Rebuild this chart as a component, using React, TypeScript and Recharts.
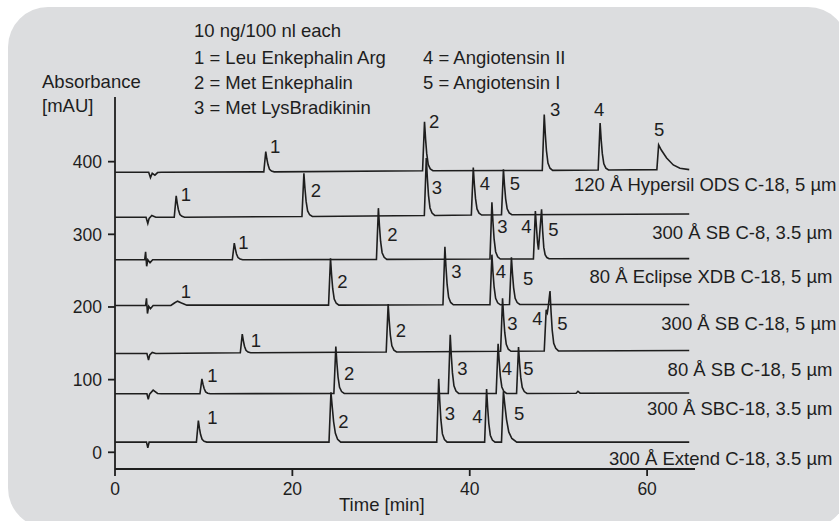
import { ComposedChart, Line, Scatter, XAxis, YAxis } from "recharts";

// chromatogram traces, [time min, absorbance mAU]
const hypersilOds = [
  [0, 385.5], [3.8, 385.5], [4.0, 378], [4.2, 384], [4.5, 381.5], [4.8, 385], [5.2, 385.5],
  [16.78, 386], [17.0, 414], [17.12, 404], [17.25, 396], [17.42, 389.5], [17.65, 387], [17.95, 386],
  [34.68, 387.5], [34.9, 455], [35.02, 431], [35.15, 411], [35.32, 396], [35.55, 390], [35.85, 387.5],
  [48.18, 388], [48.4, 465], [48.52, 438], [48.65, 415], [48.82, 398], [49.05, 391], [49.35, 388],
  [54.48, 388.5], [54.7, 453], [54.82, 430], [54.95, 411], [55.12, 397], [55.35, 391], [55.65, 388.5],
  [61.1, 389], [61.3, 423], [61.6, 416], [62.2, 405], [62.95, 395.5], [63.7, 391], [64.75, 389],
];

const sbC8 = [
  [0, 323.5], [3.5, 323.5], [3.7, 315], [3.85, 322], [4.15, 326], [4.6, 323.5],
  [6.68, 323.5], [6.9, 353], [7.02, 342.7], [7.15, 333.8], [7.32, 327.3], [7.55, 324.7], [7.85, 323.5],
  [21.08, 324.5], [21.3, 384], [21.42, 363], [21.55, 345.3], [21.72, 332.2], [21.95, 326.9], [22.25, 324.5],
  [34.88, 326], [35.1, 405], [35.22, 377.4], [35.35, 353.7], [35.52, 336.3], [35.75, 329.2], [36.05, 326],
  [40.18, 326.5], [40.4, 392], [40.52, 369], [40.65, 349.4], [40.82, 335], [41.05, 329.1], [41.35, 326.5],
  [43.58, 327], [43.8, 389.5], [43.92, 367.6], [44.05, 348.9], [44.22, 335.1], [44.45, 329.5], [44.75, 327],
  [64.75, 328],
];

const eclipseXdb = [
  [0, 265], [3.35, 265], [3.45, 276], [3.57, 256], [3.7, 265], [3.95, 261], [4.25, 265],
  [13.23, 265], [13.45, 288], [13.57, 280], [13.7, 273], [13.87, 268], [14.1, 266], [14.4, 265],
  [29.48, 265.5], [29.7, 336], [29.82, 311.3], [29.95, 290.2], [30.12, 274.7], [30.35, 268.3], [30.65, 265.5],
  [42.28, 266], [42.5, 344], [42.62, 316.7], [42.75, 293.3], [42.92, 276.1], [43.15, 269.1], [43.45, 266],
  [47.18, 266], [47.4, 332], [47.52, 310], [47.65, 288], [47.75, 279], [47.88, 300], [48.1, 334.5],
  [48.22, 305], [48.35, 282], [48.5, 272], [48.7, 268], [48.95, 266.3],
  [64.75, 266.5],
];

const sbC18wide = [
  [0, 202], [3.45, 202], [3.55, 212], [3.66, 191], [3.8, 201], [4.0, 197.5], [4.3, 202],
  [6.3, 202], [6.7, 205.5], [7.05, 208], [7.5, 205.5], [8.1, 202.5],
  [24.08, 202.5], [24.3, 267], [24.42, 244.4], [24.55, 225.1], [24.72, 210.9], [24.95, 205.1], [25.25, 202.5],
  [36.98, 203], [37.2, 283], [37.32, 255], [37.45, 231], [37.62, 213.4], [37.85, 206.2], [38.15, 203],
  [42.28, 203], [42.5, 272], [42.62, 247.9], [42.75, 227.2], [42.92, 212], [43.15, 205.8], [43.45, 203],
  [44.48, 203.5], [44.7, 268.5], [44.82, 245.8], [44.95, 226.3], [45.12, 212], [45.35, 206.1], [45.65, 203.5],
  [64.75, 203.5],
];

const sbC18narrow = [
  [0, 136], [3.6, 136], [3.78, 127], [3.92, 134], [4.2, 137.5], [4.6, 136],
  [14.13, 137], [14.35, 162.7], [14.47, 153.7], [14.6, 146], [14.77, 140.3], [15.0, 138], [15.3, 137],
  [30.58, 138], [30.8, 204], [30.92, 180.9], [31.05, 161.1], [31.22, 146.6], [31.45, 140.6], [31.75, 138],
  [43.48, 139], [43.7, 212], [43.82, 186.5], [43.95, 164.6], [44.12, 148.5], [44.35, 141.9], [44.65, 139],
  [48.4, 139.5], [48.62, 196], [48.75, 192], [48.85, 200], [49.05, 222], [49.17, 193], [49.3, 168],
  [49.47, 150], [49.7, 143], [50.0, 139.5],
  [64.75, 140],
];

const sbc18 = [
  [0, 80.5], [3.6, 80.5], [3.75, 73], [3.9, 80], [4.3, 85.5], [4.8, 81], [5.2, 80.5],
  [9.58, 80.5], [9.8, 101], [9.92, 93.8], [10.05, 87.7], [10.22, 83.2], [10.45, 81.3], [10.75, 80.5],
  [24.68, 81], [24.9, 145.7], [25.02, 123.1], [25.15, 103.6], [25.32, 89.4], [25.55, 83.6], [25.85, 81],
  [37.58, 81], [37.8, 161.8], [37.92, 133.5], [38.05, 109.3], [38.22, 91.5], [38.45, 84.2], [38.75, 81],
  [42.98, 81], [43.2, 149.4], [43.32, 125.5], [43.45, 104.9], [43.62, 89.9], [43.85, 83.7], [44.15, 81],
  [45.28, 81], [45.5, 145], [45.62, 122.6], [45.75, 103.4], [45.92, 89.3], [46.15, 83.6], [46.45, 81],
  [52.0, 81.3], [52.2, 84], [52.45, 81.3],
  [64.75, 81.5],
];

const extendC18 = [
  [0, 14], [3.55, 14], [3.7, 6], [3.85, 14],
  [9.18, 14], [9.4, 43.6], [9.52, 33.2], [9.65, 24.4], [9.82, 17.8], [10.05, 15.2], [10.35, 14],
  [24.13, 14], [24.35, 82.5], [24.5, 62], [24.65, 42], [24.85, 26], [25.1, 18], [25.45, 14],
  [36.28, 14], [36.5, 101], [36.62, 70.6], [36.75, 44.5], [36.92, 25.3], [37.15, 17.5], [37.45, 14],
  [41.68, 14], [41.9, 87], [42.02, 61.5], [42.15, 39.6], [42.32, 23.5], [42.55, 16.9], [42.85, 14],
  [43.58, 14], [43.8, 84], [43.95, 66], [44.15, 45], [44.4, 28], [44.75, 19], [45.3, 14],
  [64.75, 14],
];

const traces = [hypersilOds, sbC8, eclipseXdb, sbC18wide, sbC18narrow, sbc18, extendC18];

// peak numbers: [label, time, absorbance] where the digit sits
const peakLabels = [
  ["1", 17.59, 411.9], ["2", 35.52, 446.3], ["3", 49.16, 462.9], ["4", 54.12, 462.9], ["5", 60.89, 435.3],
  ["1", 7.52, 345.9], ["2", 22.18, 351.8], ["3", 35.82, 355.5], ["4", 41.23, 361], ["5", 44.62, 361],
  ["1", 14.02, 279.8], ["2", 30.82, 291.2], ["3", 43.22, 301.4], ["4", 45.92, 301.4], ["5", 48.97, 298.1],
  ["1", 7.52, 212.8], ["2", 25.18, 225.7], ["3", 38.03, 240.3], ["4", 43.04, 240.3], ["5", 46.12, 230.3],
  ["1", 15.41, 145.3], ["2", 31.76, 159.1], ["3", 44.35, 168.3], ["4", 47.16, 175.2], ["5", 49.98, 168.3],
  ["1", 10.52, 96.4], ["2", 25.93, 99.5], ["3", 38.71, 106.4], ["4", 43.71, 106.4], ["5", 46.15, 106.4],
  ["1", 10.52, 39], ["2", 25.29, 33], ["3", 37.29, 44.5], ["4", 40.4, 39.9], ["5", 45.1, 44.5],
];

const columnNames = [
  "120 Å Hypersil ODS C-18, 5 µm",
  "300 Å SB C-8, 3.5 µm",
  "80 Å Eclipse XDB C-18, 5 µm",
  "300 Å SB C-18, 5 µm",
  "80 Å SB C-18, 5 µm",
  "300 Å SBC-18, 3.5 µm",
  "300 Å Extend C-18, 3.5 µm",
];
const columnBaselines = [191, 239, 283, 330, 376, 415, 465];
const columnEnds = [836.5, 832.5, 832.5, 836.5, 832.5, 832.5, 832.5];

const legendLeft = ["10 ng/100 nl each", "1 = Leu Enkephalin Arg", "2 = Met Enkephalin", "3 = Met LysBradikinin"];
const legendRight = ["4 = Angiotensin II", "5 = Angiotensin I"];

const xTicks = [0, 20, 40, 60];
const yTicks = [0, 100, 200, 300, 400];

const FONT = "'Liberation Sans', Arial, sans-serif";
const INK = "#1e1e1e";

const traceData = traces.map((tr) => tr.map(([t, v]) => ({ t, v })));
const labelData = peakLabels.map(([n, t, v]) => ({ n, t, v }));

export default function App() {
  return (
    <div style={{ position: "fixed", left: 0, top: 0, width: 839, height: 521, overflow: "hidden", background: "#fff" }}>
      <div
        style={{
          position: "absolute",
          left: 8,
          top: 7,
          width: 840,
          height: 521,
          borderRadius: 40,
          background: "#dcdddf",
        }}
      />
      <div style={{ position: "absolute", left: 0, top: 0 }}>
        <ComposedChart width={839} height={521} margin={{ top: 97, right: 144, bottom: 22, left: 55 }}>
          <XAxis
            dataKey="t"
            type="number"
            domain={[0, 65.4]}
            ticks={xTicks}
            allowDataOverflow
            height={30}
            tickSize={7}
            tickMargin={7}
            stroke={INK}
            strokeWidth={1.8}
            tick={{ fill: INK, fontSize: 17.5, fontFamily: FONT }}
          />
          <YAxis
            type="number"
            domain={[-23, 489]}
            ticks={yTicks}
            allowDataOverflow
            width={60}
            tickSize={7}
            tickMargin={6}
            stroke={INK}
            strokeWidth={1.8}
            tick={{ fill: INK, fontSize: 17.5, fontFamily: FONT }}
          />
          {traceData.map((d, i) => (
            <Line
              key={i}
              data={d}
              dataKey="v"
              type="linear"
              dot={false}
              activeDot={false}
              stroke={INK}
              strokeWidth={1.6}
              isAnimationActive={false}
            />
          ))}
          <Scatter
            data={labelData}
            dataKey="v"
            isAnimationActive={false}
            shape={(p: any) => (
              <text x={p.cx - 1} y={p.cy} fontSize={18.5} fontFamily={FONT} fill={INK}>
                {p.payload.n}
              </text>
            )}
          />
        </ComposedChart>
      </div>
      <svg width={839} height={521} style={{ position: "absolute", left: 0, top: 0, pointerEvents: "none" }}>
        <g fontFamily={FONT} fontSize={18.5} fill={INK}>
          {legendLeft.map((s, i) => (
            <text key={s} x={194} y={[37, 64, 88.5, 113.5][i]}>
              {s}
            </text>
          ))}
          {legendRight.map((s, i) => (
            <text key={s} x={423} y={[64, 88.5][i]}>
              {s}
            </text>
          ))}
          <text x={42} y={87.5}>Absorbance</text>
          <text x={42} y={111.5}>[mAU]</text>
          <text x={339} y={511}>Time [min]</text>
          {columnNames.map((s, i) => (
            <text key={s} x={columnEnds[i]} y={columnBaselines[i]} textAnchor="end">
              {s}
            </text>
          ))}
        </g>
      </svg>
    </div>
  );
}
